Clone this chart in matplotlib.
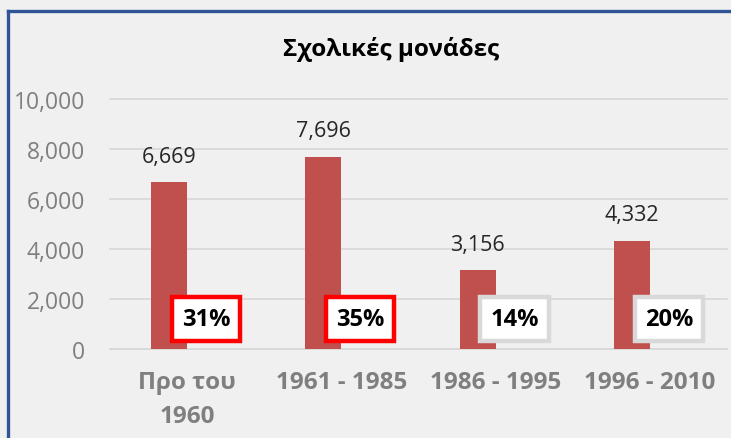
import matplotlib
matplotlib.use("Agg")
import matplotlib.pyplot as plt
from matplotlib.lines import Line2D
import numpy as np

# ---- data ----
categories = ["Προ του\n1960", "1961 - 1985", "1986 - 1995", "1996 - 2010"]
values = [6669, 7696, 3156, 4332]
percents = [31, 35, 14, 20]
highlight = [True, True, False, False]
title = "Σχολικές μονάδες"
yticks = [0, 2000, 4000, 6000, 8000, 10000]

plt.rcParams['font.family'] = ['Open Sans', 'DejaVu Sans']

W, H = 731, 439
fig = plt.figure(figsize=(W / 100, H / 100), dpi=100)
bg = '#F0F0F0'
fig.patch.set_facecolor(bg)

left, right = 110 / W, 727 / W
bottom, top = 1 - 350 / H, 1 - 100 / H
ax = fig.add_axes([left, bottom, right - left, top - bottom])
ax.set_facecolor(bg)

x = np.arange(len(categories))
bw = 0.234
ax.bar(x - bw / 2, values, width=bw, color='#C0504D', zorder=3)

ax.set_ylim(0, 10000)
ax.set_xlim(-0.5, len(categories) - 0.5)
ax.set_yticks(yticks)
ax.set_yticklabels([f"{v:,}" for v in yticks])
ax.yaxis.grid(True, color='#D9D9D9', linewidth=1.3, zorder=0)
ax.set_axisbelow(True)
for s in ['top', 'right', 'left']:
    ax.spines[s].set_visible(False)
ax.spines['bottom'].set_color('#D9D9D9')
ax.spines['bottom'].set_linewidth(1.3)
ax.tick_params(axis='y', length=0, pad=18, labelsize=16.5, labelcolor='#7F7F7F')
ax.tick_params(axis='x', length=0, pad=15)
ax.set_xticks(x)
ax.set_xticklabels(categories, fontsize=17.5, fontweight='bold', color='#7F7F7F',
                   linespacing=1.55)

# top gridline unclipped
for gl in ax.get_ygridlines():
    gl.set_clip_on(False)

# value labels
for xi, v in zip(x, values):
    ax.annotate(f"{v:,}", xy=(xi - bw / 2, v), xytext=(0, 26),
                textcoords='offset pixels', ha='center', va='center',
                fontsize=15.5, color='#262626', zorder=5)

# percentage boxes
for xi, p, hl in zip(x, percents, highlight):
    ec = '#FF0000' if hl else '#D9D9D9'
    ax.text(xi + 0.123, 1200, f"{p}%", ha='center', va='center',
            fontsize=17, fontweight='bold', color='#000000', zorder=6,
            bbox=dict(boxstyle='square,pad=0.42', facecolor='white',
                      edgecolor=ec, linewidth=3.2))

# title
fig.text(391 / W, 1 - 50 / H, title, ha='center', va='center',
         fontsize=17.5, fontweight='bold', color='#000000')

# chart frame (left and top edges visible)
lx = 7.5 / W
ty = 1 - 11.5 / H
fig.add_artist(Line2D([lx, lx], [0, ty], transform=fig.transFigure,
                      color='#2F5597', linewidth=2.4, solid_capstyle='projecting'))
fig.add_artist(Line2D([lx, 1], [ty, ty], transform=fig.transFigure,
                      color='#2F5597', linewidth=2.4, solid_capstyle='projecting'))

fig.savefig("out.png", dpi=100, facecolor=bg)
